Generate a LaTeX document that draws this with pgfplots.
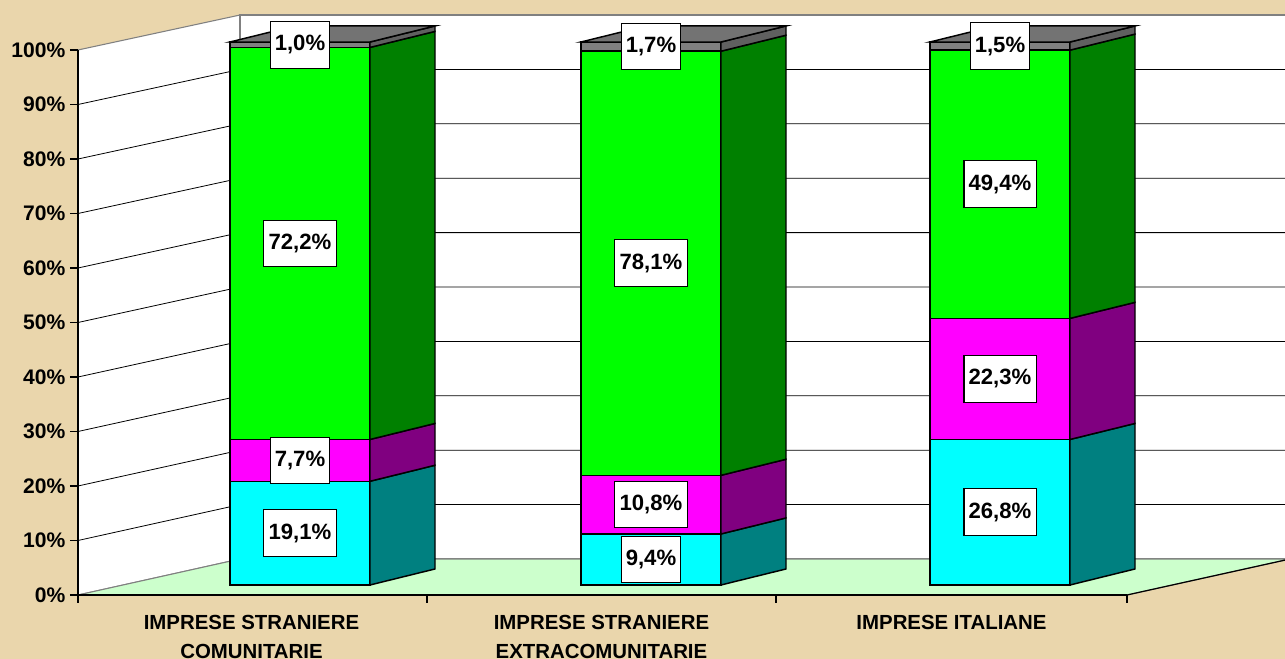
\documentclass[border=0pt]{standalone}
\usepackage{fontspec}
\setmainfont{Liberation Sans}
\usepackage{pgfplots}
\pgfplotsset{compat=1.18}
\definecolor{bg}{RGB}{234,214,172}
\definecolor{floorc}{RGB}{204,255,204}
\definecolor{wallgray}{RGB}{128,128,128}
\definecolor{cyanf}{RGB}{0,255,255}
\definecolor{cyans}{RGB}{0,128,128}
\definecolor{magf}{RGB}{255,0,255}
\definecolor{mags}{RGB}{128,0,128}
\definecolor{grnf}{RGB}{0,255,0}
\definecolor{grns}{RGB}{0,128,0}
\definecolor{gryf}{RGB}{128,128,128}
\definecolor{grys}{RGB}{96,96,96}
\definecolor{gryt}{RGB}{115,115,115}
\begin{document}
\begin{tikzpicture}
\useasboundingbox (0,0) rectangle (963.75pt,494.25pt);
\clip (0,0) rectangle (963.75pt,494.25pt);
\fill[bg] (0,0) rectangle (963.75pt,494.25pt);
\pgfplotsset{base/.style={scale only axis, width=786.75pt, height=408.75pt,
  xmin=78, xmax=1127, ymin=-1.842, ymax=98.527,
  at={(58.5pt,48pt)}, anchor=south west, clip=false}}
% ---------- walls, floor, grid, axes ----------
\begin{axis}[base, axis on top, axis lines*=left,
  axis line style={black, line width=0.9pt, -},
  tick style={black, line width=0.9pt}, tick align=outside, major tick length=6pt,
  ytick={-1.842,8.195,18.232,28.269,38.305,48.342,58.379,68.416,78.452,88.489,98.527},
  yticklabels={0\%,10\%,20\%,30\%,40\%,50\%,60\%,70\%,80\%,90\%,100\%},
  yticklabel style={font=\fontsize{15.8}{18}\selectfont\bfseries},
  xtick={78,427,776,1127}, xticklabels={,,,},
  extra x ticks={251.5,601.5,951.5},
  extra x tick labels={{IMPRESE STRANIERE\\COMUNITARIE},{IMPRESE STRANIERE\\EXTRACOMUNITARIE},{IMPRESE ITALIANE}},
  extra x tick style={tick style={draw=none}},
  xticklabel style={font=\fontsize{15.3}{22.2}\selectfont\bfseries, align=center, anchor=north, yshift=-5.5pt},
  ]
\addplot[fill=white, draw=wallgray, line width=0.8pt] coordinates {(78,-1.842) (78,98.527) (240,104.968) (240,4.788)} -- cycle;
\addplot[fill=white, draw=wallgray, line width=0.8pt] coordinates {(240,4.788) (1295,4.788) (1295,104.968) (240,104.968)} -- cycle;
\addplot[fill=floorc, draw=wallgray, line width=0.8pt] coordinates {(78,-1.842) (1127,-1.842) (1290,4.788) (240,4.788)} -- cycle;
\addplot[black, line width=0.9pt] coordinates {(1127,-1.842) (1290,4.788)};
\addplot[black, line width=0.6pt] coordinates {(78,8.195) (240,14.806) (1290,14.806)};
\addplot[black, line width=0.6pt] coordinates {(78,18.232) (240,24.824) (1290,24.824)};
\addplot[black, line width=0.6pt] coordinates {(78,28.269) (240,34.842) (1290,34.842)};
\addplot[black, line width=0.6pt] coordinates {(78,38.305) (240,44.860) (1290,44.860)};
\addplot[black, line width=0.6pt] coordinates {(78,48.342) (240,54.878) (1290,54.878)};
\addplot[black, line width=0.6pt] coordinates {(78,58.379) (240,64.896) (1290,64.896)};
\addplot[black, line width=0.6pt] coordinates {(78,68.416) (240,74.914) (1290,74.914)};
\addplot[black, line width=0.6pt] coordinates {(78,78.452) (240,84.932) (1290,84.932)};
\addplot[black, line width=0.6pt] coordinates {(78,88.489) (240,94.950) (1290,94.950)};
\end{axis}
% ---------- front faces of the stacked bars ----------
\begin{axis}[base, hide axis, ybar stacked, bar width=140]
\addplot[fill=cyanf, draw=black, line width=1.1pt] coordinates {(300,19.1) (651,9.4) (1000,26.8)};
\addplot[fill=magf, draw=black, line width=1.1pt] coordinates {(300,7.7) (651,10.8) (1000,22.3)};
\addplot[fill=grnf, draw=black, line width=1.1pt] coordinates {(300,72.2) (651,78.1) (1000,49.4)};
\addplot[fill=gryf, draw=black, line width=1.1pt] coordinates {(300,1.0) (651,1.7) (1000,1.5)};
\end{axis}
% ---------- side and top faces, labels ----------
\begin{axis}[base, hide axis]
% bar 1
\addplot[fill=cyans, draw=black, line width=1.1pt] coordinates {(370,0) (435,2.95) (435,22.05) (370,19.1)} -- cycle;
\addplot[fill=mags, draw=black, line width=1.1pt] coordinates {(370,19.1) (435,22.05) (435,29.75) (370,26.8)} -- cycle;
\addplot[fill=grns, draw=black, line width=1.1pt] coordinates {(370,26.8) (435,29.75) (435,101.95) (370,99.0)} -- cycle;
\addplot[fill=grys, draw=black, line width=1.1pt] coordinates {(370,99.0) (435,101.95) (435,102.95) (370,100)} -- cycle;
\addplot[fill=gryt, draw=black, line width=1.1pt] coordinates {(230,100) (370,100) (435,102.95) (295,102.95)} -- cycle;
% bar 2
\addplot[fill=cyans, draw=black, line width=1.1pt] coordinates {(721,0) (786,2.95) (786,12.35) (721,9.4)} -- cycle;
\addplot[fill=mags, draw=black, line width=1.1pt] coordinates {(721,9.4) (786,12.35) (786,23.15) (721,20.2)} -- cycle;
\addplot[fill=grns, draw=black, line width=1.1pt] coordinates {(721,20.2) (786,23.15) (786,101.25) (721,98.3)} -- cycle;
\addplot[fill=grys, draw=black, line width=1.1pt] coordinates {(721,98.3) (786,101.25) (786,102.95) (721,100)} -- cycle;
\addplot[fill=gryt, draw=black, line width=1.1pt] coordinates {(581,100) (721,100) (786,102.95) (646,102.95)} -- cycle;
% bar 3
\addplot[fill=cyans, draw=black, line width=1.1pt] coordinates {(1070,0) (1135,2.95) (1135,29.75) (1070,26.8)} -- cycle;
\addplot[fill=mags, draw=black, line width=1.1pt] coordinates {(1070,26.8) (1135,29.75) (1135,52.05) (1070,49.1)} -- cycle;
\addplot[fill=grns, draw=black, line width=1.1pt] coordinates {(1070,49.1) (1135,52.05) (1135,101.45) (1070,98.5)} -- cycle;
\addplot[fill=grys, draw=black, line width=1.1pt] coordinates {(1070,98.5) (1135,101.45) (1135,102.95) (1070,100)} -- cycle;
\addplot[fill=gryt, draw=black, line width=1.1pt] coordinates {(930,100) (1070,100) (1135,102.95) (995,102.95)} -- cycle;
% value labels
\addplot[draw=none, mark=none, point meta=explicit symbolic, nodes near coords,
  every node near coord/.append style={anchor=center, fill=white, draw=black, line width=0.8pt,
    font=\fontsize{16.6}{19}\selectfont\bfseries, text=black, minimum height=35pt, inner xsep=3.5pt}]
  coordinates {
  (300,9.55) [19,1\%] (300,22.95) [7,7\%] (300,62.9) [72,2\%] (300,99.5) [1,0\%]
  (651,4.7) [9,4\%] (651,14.8) [10,8\%] (651,59.25) [78,1\%] (651,99.15) [1,7\%]
  (1000,13.4) [26,8\%] (1000,37.95) [22,3\%] (1000,73.8) [49,4\%] (1000,99.25) [1,5\%]
  };
\end{axis}
\end{tikzpicture}
\end{document}
